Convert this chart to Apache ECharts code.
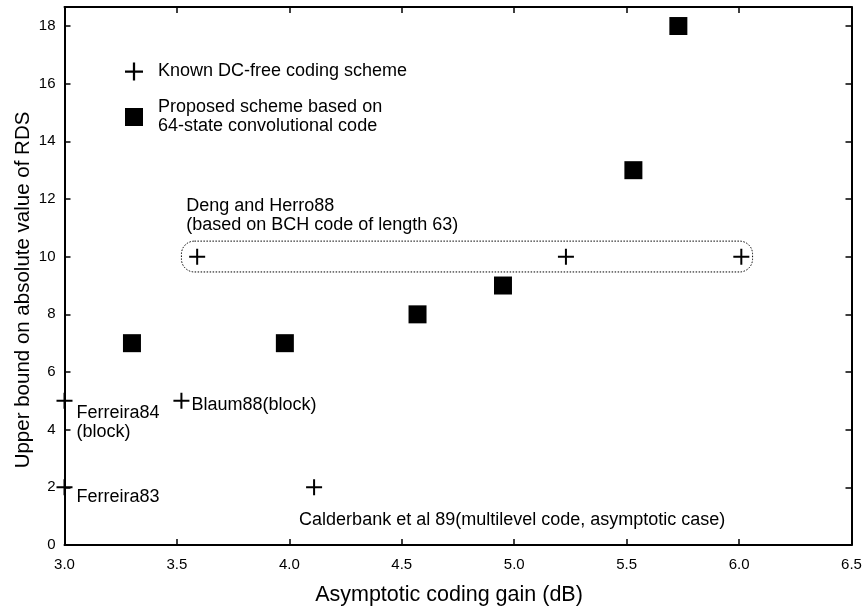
<!DOCTYPE html>
<html><head><meta charset="utf-8">
<script src="https://cdn.jsdelivr.net/npm/echarts@6/dist/echarts.min.js"></script>
<style>html,body{margin:0;padding:0;background:#fff}#c{width:862px;height:609px}</style>
</head><body><div id="c"></div>
<script>
// ---- data ----
const xTicks = [3.0, 3.5, 4.0, 4.5, 5.0, 5.5, 6.0, 6.5];
const yTicks = [0, 2, 4, 6, 8, 10, 12, 14, 16, 18];
const knownName = 'Known DC-free coding scheme';
const proposedName = 'Proposed scheme based on\n64-state convolutional code';
const knownLabels = ['Ferreira84\n(block)', 'Ferreira83', 'Blaum88(block)',
  'Calderbank et al 89(multilevel code, asymptotic case)',
  'Deng and Herro88\n(based on BCH code of length 63)', '', ''];
const knownX = [3.0, 3.0, 3.52, 4.11, 3.59, 5.23, 6.01];
const knownY = [5, 2, 5, 2, 10, 10, 10];
const proposedX = [3.30, 3.98, 4.57, 4.95, 5.53, 5.73];
const proposedY = [7, 7, 8, 9, 13, 18];
const dengGroupX = [3.52, 6.06];
const dengGroupY = [9.47, 10.54];

// ---- styling ----
const FONT = '"Liberation Sans", Arial, Helvetica, sans-serif';
const labelOffsets = [[20, 11], [20, 8], [18, 3], [-7, 31], [-3, -52], null, null];
const CROSS = 'path://M7,0H9V7H16V9H9V16H7V9H0V7H7Z';

const chart = echarts.init(document.getElementById('c'), null, {renderer: 'canvas'});

const axisLine = {show: true, onZero: false, lineStyle: {color: '#000', width: 2}};
const tickStyle = {color: '#000', width: 1.5};

const option = {
  animation: false,
  backgroundColor: '#fff',
  textStyle: {fontFamily: FONT, color: '#000'},
  grid: {left: 64.5, right: 10.5, top: 7, bottom: 64, containLabel: false, outerBoundsMode: 'none'},
  legend: {
    left: 120, top: 57, orient: 'vertical', itemWidth: 18, itemHeight: 18, itemGap: 17,
    selectedMode: false,
    textStyle: {fontSize: 18, lineHeight: 19, color: '#000', fontFamily: FONT, padding: [0, 0, 0, 10]},
    data: [{name: knownName, icon: CROSS}, {name: proposedName, icon: 'rect'}]
  },
  xAxis: [{
    type: 'value', min: 3, max: 6.5, position: 'bottom',
    axisLine: axisLine,
    axisTick: {inside: true, length: 6, lineStyle: tickStyle, customValues: xTicks},
    axisLabel: {customValues: xTicks, formatter: v => v.toFixed(1), fontSize: 15, color: '#000', margin: 12, fontFamily: FONT},
    splitLine: {show: false},
    name: 'Asymptotic coding gain (dB)', nameLocation: 'middle', nameGap: 39,
    nameTextStyle: {fontSize: 21.5, color: '#000', fontFamily: FONT, padding: [0, 18, 0, 0]}
  }, {
    type: 'value', min: 3, max: 6.5, position: 'top',
    axisLine: axisLine,
    axisTick: {inside: true, length: 6, lineStyle: tickStyle, customValues: xTicks},
    axisLabel: {show: false}, splitLine: {show: false}
  }],
  yAxis: [{
    type: 'value', min: 0, max: 18.66, position: 'left',
    axisLine: axisLine,
    axisTick: {inside: true, length: 6, lineStyle: tickStyle, customValues: yTicks},
    axisLabel: {customValues: yTicks, fontSize: 15, color: '#000', margin: 9, fontFamily: FONT},
    splitLine: {show: false},
    name: 'Upper bound on absolute value of RDS', nameLocation: 'middle', nameGap: 31,
    nameMoveOverlap: false,
    nameTextStyle: {fontSize: 20.5, color: '#000', fontFamily: FONT, padding: [0, 28, 0, 0]}
  }, {
    type: 'value', min: 0, max: 18.66, position: 'right',
    axisLine: axisLine,
    axisTick: {inside: true, length: 6, lineStyle: tickStyle, customValues: yTicks},
    axisLabel: {show: false}, splitLine: {show: false}
  }],
  series: [{
    name: knownName, type: 'scatter', symbol: CROSS, symbolSize: 16, clip: false, z: 5,
    itemStyle: {color: '#000', opacity: 1},
    emphasis: {disabled: true},
    label: {show: false, color: '#000', fontSize: 18, lineHeight: 19, fontFamily: FONT, align: 'left', verticalAlign: 'top'},
    data: knownX.map((x, i) => ({
      value: [x, knownY[i]],
      label: knownLabels[i] ? {show: true, formatter: knownLabels[i], position: labelOffsets[i], color: '#000'} : {show: false}
    }))
  }, {
    name: proposedName, type: 'scatter', symbol: 'rect', symbolSize: 18, clip: false, z: 5,
    itemStyle: {color: '#000', opacity: 1},
    emphasis: {disabled: true},
    data: proposedX.map((x, i) => [x, proposedY[i]])
  }]
};
chart.setOption(option);

const p1 = chart.convertToPixel({xAxisIndex: 0, yAxisIndex: 0}, [dengGroupX[0], dengGroupY[1]]);
const p2 = chart.convertToPixel({xAxisIndex: 0, yAxisIndex: 0}, [dengGroupX[1], dengGroupY[0]]);
chart.setOption({
  graphic: [{
    type: 'rect', z: 10,
    shape: {x: p1[0], y: p1[1], width: p2[0] - p1[0], height: p2[1] - p1[1], r: 13},
    style: {fill: 'none', stroke: '#000', lineWidth: 1, lineDash: [1.5, 1.5]}
  }]
});
</script>
</body></html>
